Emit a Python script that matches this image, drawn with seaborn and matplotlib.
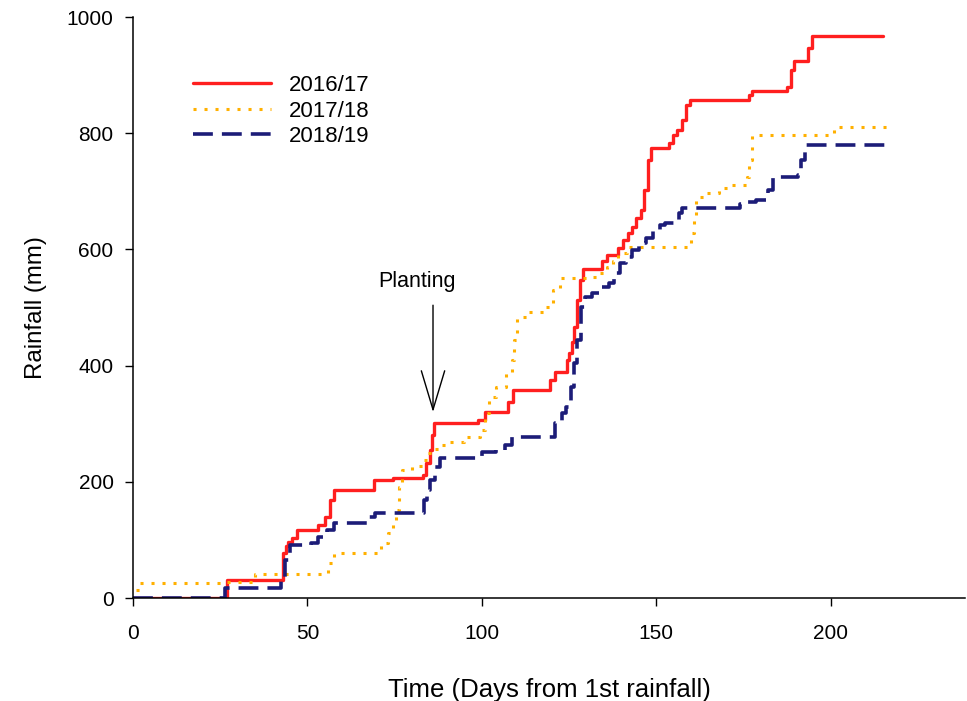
import pandas as pd
import matplotlib
matplotlib.use("Agg")
import matplotlib.pyplot as plt
import seaborn as sns

# cumulative rainfall, step points (day, mm)
days_1617 = [0, 27, 43, 44, 44.5, 45.5, 47, 53, 55, 56.5, 57.5, 69, 74.5, 83, 84, 85, 85.7, 86.3,
             99, 101, 107.5, 109, 119.5, 121, 124.3, 125, 125.8, 126.5, 127.2, 128, 129, 134.5,
             135.8, 139, 140.5, 141.8, 143, 144.3, 145.5, 146.5, 147.5, 148.5, 153.5, 154.7, 155.9,
             157.4, 158.6, 159.6, 176.5, 177.4, 187.4, 188.5, 189.4, 193.4, 194.6, 215]
rain_1617 = [0, 31, 77, 90, 96, 103, 117, 126, 140, 169, 186, 203, 206, 212, 232, 255, 280, 301,
             306, 320, 337, 358, 375, 389, 410, 421, 440, 466, 513, 547, 567, 580,
             590, 602, 616, 628, 639, 654, 668, 702, 754, 774, 783, 797, 805,
             823, 849, 857, 866, 873, 880, 909, 924, 947, 967, 967]

days_1718 = [1, 2, 27, 35, 56, 57.5, 71, 73, 74.5, 75.5, 76.3, 77, 80, 83, 84.5, 86, 88, 90, 95,
             99.5, 101, 102, 104, 107, 108.5, 109.3, 110, 113, 118, 120.5, 122.5, 130, 133.5,
             135.8, 137.5, 139, 141.5, 159.6, 160, 160.8, 161.5, 164.5, 168, 170.5, 176, 176.7,
             177.5, 201, 218]
rain_1718 = [14, 26, 28, 42, 60, 77, 95, 112, 129, 151, 191, 220, 228, 237, 250, 257, 264, 268, 277,
             289, 318, 346, 363, 387, 410, 444, 484, 492, 501, 530, 551, 553, 559,
             570, 580, 594, 604, 604, 628, 650, 690, 697, 706, 711, 725, 754,
             797, 811, 811]

days_1819 = [0, 26.5, 42.5, 43.5, 45, 51, 53, 55.5, 57.5, 67, 69.5, 83.5, 84.3, 85, 86.5, 88, 100,
             104, 106.5, 108.5, 121, 123, 124, 125.5, 126.5, 127.3, 128.3, 129.5, 131.5, 133.5,
             136.5, 138, 139.5, 141.3, 143, 145, 147, 149, 151, 152.5, 156.5, 157.5, 174, 176,
             178.5, 182, 183.4, 190.5, 191.5, 192.6, 217.5]
rain_1819 = [0, 17, 31, 65, 91, 95, 105, 117, 129, 140, 146, 169, 186, 203, 226, 241, 251,
             255, 263, 277, 301, 318, 329, 363, 404, 444, 501, 518, 525, 535,
             542, 559, 577, 587, 599, 611, 620, 631, 642, 645, 663, 671, 678, 682,
             685, 702, 725, 728, 754, 780, 780]

sns.set_style("ticks")
plt.rcParams['font.family'] = ['Liberation Sans', 'DejaVu Sans']
plt.rcParams['text.color'] = 'black'
plt.rcParams['axes.labelcolor'] = 'black'
plt.rcParams['xtick.color'] = 'black'
plt.rcParams['ytick.color'] = 'black'

fig = plt.figure(figsize=(9.67, 7.01), dpi=100)
ax = fig.add_axes([0.1375, 0.1469, 0.8605, 0.8288])

sns.lineplot(x=days_1617, y=rain_1617, ax=ax, color='#ff1f1f', lw=2.4,
             drawstyle='steps-post', label='2016/17', estimator=None)
sns.lineplot(x=days_1718, y=rain_1718, ax=ax, color='#ffb000', lw=2.2,
             linestyle=(0, (1, 2.6)), drawstyle='steps-post', label='2017/18', estimator=None)
sns.lineplot(x=days_1819, y=rain_1819, ax=ax, color='#1c1c78', lw=2.6,
             linestyle=(0, (5.5, 2.5)), drawstyle='steps-post', label='2018/19', estimator=None)

# planting arrow
ax.text(81.5, 544, 'Planting', ha='center', va='center', fontsize=15.5)
ax.annotate('', xy=(86, 320), xytext=(86, 504),
            arrowprops=dict(arrowstyle='->,head_length=2.0,head_width=0.6', color='black',
                            lw=1, mutation_scale=14, shrinkA=0, shrinkB=0))

ax.set_xlim(0, 238.5)
ax.set_ylim(0, 1000)
ax.set_xticks([0, 50, 100, 150, 200])
ax.set_yticks([0, 200, 400, 600, 800, 1000])
ax.tick_params(direction='out', length=6, width=1, labelsize=15, color='black')
ax.tick_params(axis='x', pad=13)
ax.tick_params(axis='y', pad=8)
for s in ['top', 'right']:
    ax.spines[s].set_visible(False)
for s in ['left', 'bottom']:
    ax.spines[s].set_linewidth(1.1)
    ax.spines[s].set_color('black')

ax.set_xlabel('Time (Days from 1st rainfall)', fontsize=18.5, labelpad=25)
ax.set_ylabel('Rainfall (mm)', fontsize=17.3, labelpad=14)

ax.legend(loc='upper left', bbox_to_anchor=(0.072, 0.9), frameon=False, fontsize=16,
          handlelength=3.5, handletextpad=0.8, labelspacing=0.2, borderpad=0, borderaxespad=0)

fig.savefig('out.png', dpi=100)
